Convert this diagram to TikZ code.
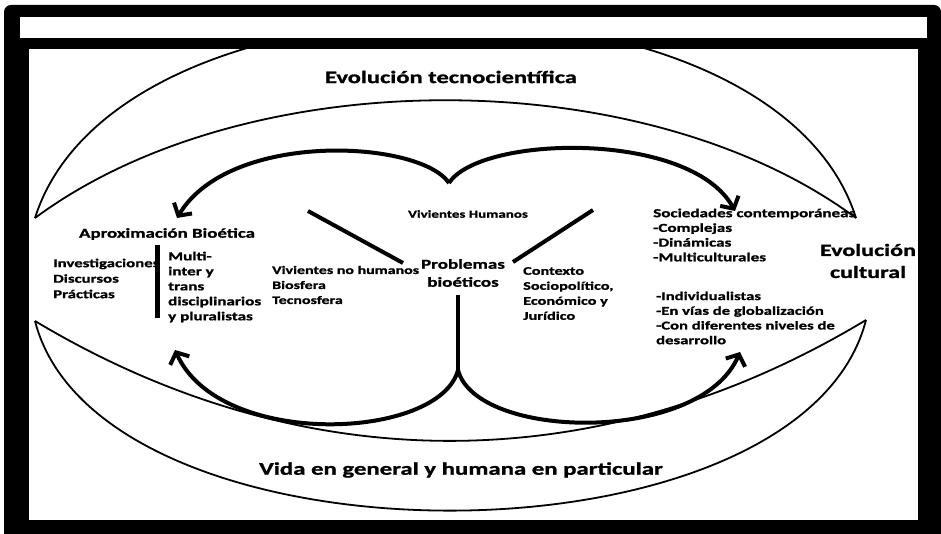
\documentclass[tikz,border=0pt]{standalone}
\usepackage{fontspec}
\setmainfont{Carlito}[FakeStretch=1.4,BoldFeatures={FakeBold=1.2}]
\usetikzlibrary{arrows.meta}
\tikzset{
  thinarc/.style={line width=1.8pt},
  bigline/.style={line width=4pt},
  bigarrow/.style={line width=4pt,-{Straight Barb[length=9pt,width=21pt]}},
  txt/.style={inner sep=0pt,font=\bfseries},
  lefttxt/.style={txt,anchor=west,align=left},
}
\begin{document}
\begin{tikzpicture}[x=1pt,y=-1pt]
\useasboundingbox (0,0) rectangle (941,534);
% frame
\fill[black] (4,534) [rounded corners=7pt] -- (4,5) -- (941,5) [sharp corners] -- (941,534) -- cycle;
\fill[white] (20,17) rectangle (927,38);
\fill[white] (29,49) rectangle (918,520);
% crescents
\begin{scope}
\clip (29,49) rectangle (918,520);
\coordinate (tl) at (35,218);
\coordinate (tr) at (856,218);
\coordinate (bl) at (35,321);
\coordinate (br) at (866,320);
\draw[thinarc] (tl) .. controls (118,-45) and (773,-45) .. (tr);
\draw[thinarc] (tl) .. controls (247,61) and (644,61) .. (tr);
\draw[thinarc] (bl) .. controls (302,481) and (599,481) .. (br);
\draw[thinarc] (bl) .. controls (100,574) and (801,574) .. (br);
\end{scope}
% texts
\node[txt,font=\fontsize{17.5}{20}\selectfont\bfseries] (title) at (451,77) {Evolución tecnocientífica};
\node[txt,font=\fontsize{17.7}{21}\selectfont\bfseries] (life) at (461,470) {Vida en general y humana en particular};
\node[txt,align=center,font=\fontsize{17.2}{22}\selectfont\bfseries] (culture) at (868,261) {Evolución\\cultural};
\node[txt,font=\fontsize{13.5}{15}\selectfont\bfseries] (aprox) at (167,234) {Aproximación Bioética};
\node[lefttxt,font=\fontsize{12}{15.5}\selectfont\bfseries] (invest) at (53,278.5) {Investigaciones\\Discursos\\Prácticas};
\node[lefttxt,font=\fontsize{12.2}{15}\selectfont\bfseries] (multi) at (168,287) {Multi-\\inter y\\trans\\disciplinarios\\y pluralistas};
\node[txt,font=\fontsize{10.7}{13}\selectfont\bfseries] (vh) at (468,214) {Vivientes Humanos};
\node[txt,align=center,font=\fontsize{13.6}{18}\selectfont\bfseries] (prob) at (463,273) {Problemas\\bioéticos};
\node[lefttxt,font=\fontsize{11.4}{15}\selectfont\bfseries] (vnh) at (272,285) {Vivientes no humanos\\Biosfera\\Tecnosfera};
\node[lefttxt,font=\fontsize{11.6}{15}\selectfont\bfseries] (ctx) at (523,293.5) {Contexto\\Sociopolítico,\\Económico y\\Jurídico};
\node[lefttxt,font=\fontsize{12.2}{14.7}\selectfont\bfseries] (soc) at (653,235) {Sociedades contemporáneas\\-Complejas\\-Dinámicas\\-Multiculturales};
\node[lefttxt,font=\fontsize{11.9}{14.7}\selectfont\bfseries] (indiv) at (656,318) {-Individualistas\\-En vías de globalización\\-Con diferentes niveles de\\desarrollo};
% bar beside Aproximación
\coordinate (bartop) at (157,245);
\coordinate (barbot) at (157,318);
\draw[line width=5pt] (bartop) -- (barbot);
% lines around Problemas
\coordinate (dl1) at (308,211);
\coordinate (dl2) at (403,263);
\coordinate (dr1) at (593,210);
\coordinate (dr2) at (513,262);
\draw[bigline] (dl1) -- (dl2);
\draw[bigline] (dr1) -- (dr2);
% top arrows
\coordinate (topcusp) at (449,183);
\coordinate (aproxtip) at (177,218);
\coordinate (soctip) at (735,211);
\draw[bigarrow] (topcusp) .. controls (420,140) and (230,130) .. (aproxtip);
\draw[bigarrow] (topcusp) .. controls (480,135) and (690,130) .. (soctip);
% bottom stem and arrows
\coordinate (stemtop) at (458,295);
\coordinate (botcusp) at (458,370);
\coordinate (bltip) at (175,350);
\coordinate (brtip) at (740,352);
\draw[bigline] (stemtop) -- (botcusp);
\draw[bigarrow] (botcusp) .. controls (440,440) and (220,450) .. (bltip);
\draw[bigarrow] (botcusp) .. controls (476,440) and (700,445) .. (brtip);
\end{tikzpicture}
\end{document}
